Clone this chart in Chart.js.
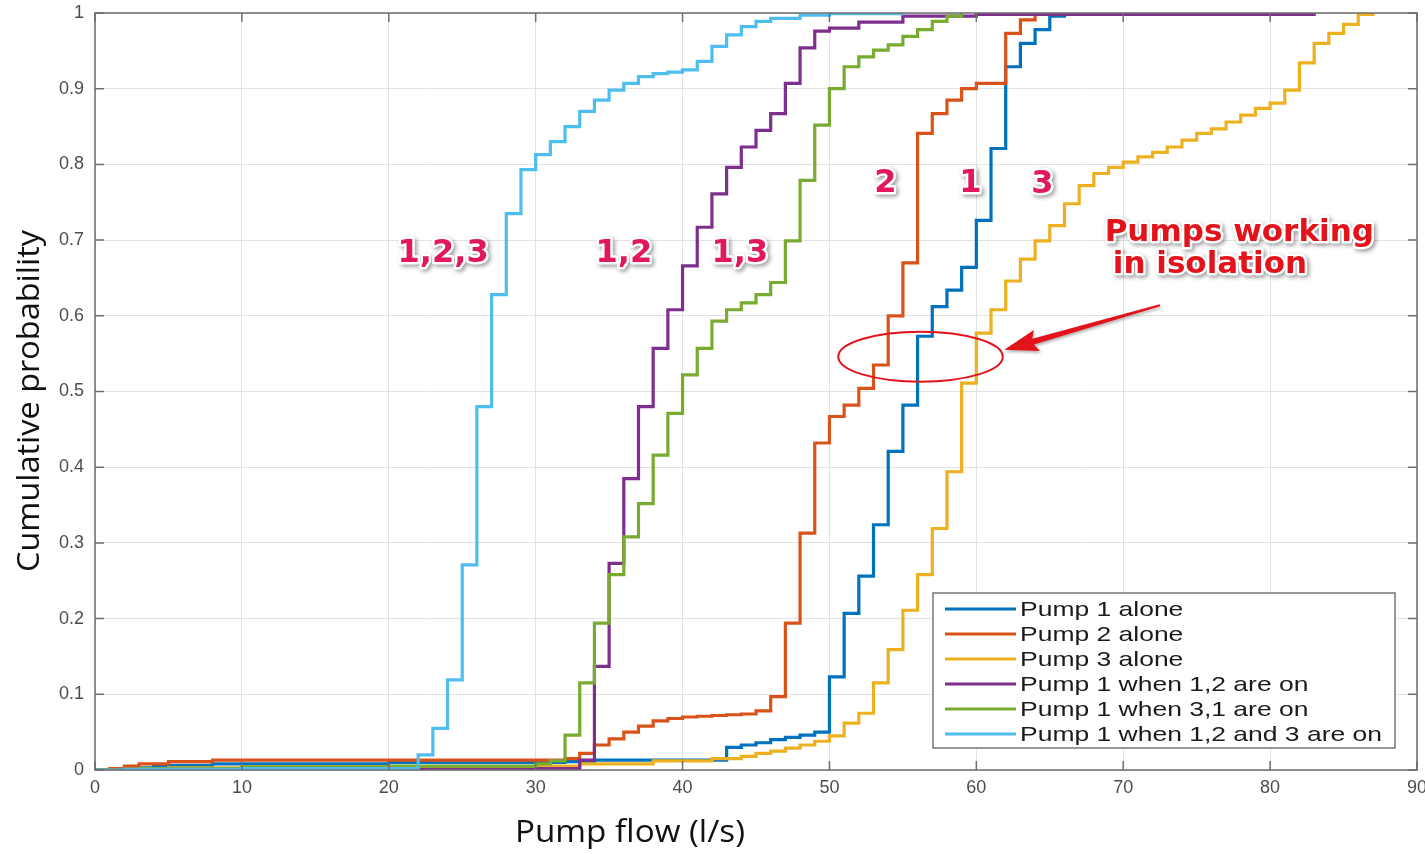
<!DOCTYPE html>
<html>
<head>
<meta charset="utf-8">
<style>
  html, body { margin: 0; padding: 0; background: #fff; }
  canvas { display: block; }
</style>
</head>
<body>
<canvas id="cdf" width="1425" height="854"></canvas>
<script src="https://cdn.jsdelivr.net/npm/chart.js@4.4.1/dist/chart.umd.min.js"></script>
<script>
// Empirical CDFs: flow (l/s) where each curve steps, and the probability after the step
const p1Flow = [0, 2, 4, 8, 20, 32, 34, 43, 44, 45, 46, 47, 48, 49, 50, 51, 52, 53, 54, 55, 56, 57, 58, 59, 60, 61, 62, 63, 64, 65, 66, 69];
const p1Cdf  = [0, 0.003, 0.006, 0.008, 0.01, 0.011, 0.013, 0.03, 0.033, 0.036, 0.04, 0.043, 0.046, 0.05, 0.123, 0.207, 0.256, 0.324, 0.421, 0.482, 0.573, 0.612, 0.634, 0.664, 0.726, 0.821, 0.929, 0.96, 0.978, 0.996, 1, 1];

const p2Flow = [0, 1, 2, 3, 5, 8, 32, 33, 34, 35, 36, 37, 38, 39, 40, 41, 42, 43, 44, 45, 46, 47, 48, 49, 50, 51, 52, 53, 54, 55, 56, 57, 58, 59, 60, 62, 63, 64, 65, 70];
const p2Cdf  = [0, 0.002, 0.005, 0.008, 0.011, 0.013, 0.015, 0.022, 0.033, 0.041, 0.05, 0.058, 0.065, 0.068, 0.07, 0.071, 0.072, 0.073, 0.074, 0.078, 0.097, 0.194, 0.313, 0.432, 0.467, 0.482, 0.504, 0.535, 0.6, 0.67, 0.841, 0.867, 0.885, 0.9, 0.907, 0.973, 0.991, 0.998, 1, 1];

const p3Flow = [0, 2, 5, 10, 30, 33, 38, 42, 44, 45, 46, 47, 48, 49, 50, 51, 52, 53, 54, 55, 56, 57, 58, 59, 60, 61,
                62, 63, 64, 65, 66, 67, 68, 69, 70, 71, 72, 73, 74, 75, 76, 77, 78, 79, 80, 81, 82, 83, 84, 85, 86, 87];
const p3Cdf  = [0, 0.001, 0.003, 0.004, 0.005, 0.008, 0.012, 0.015, 0.018, 0.022, 0.025, 0.029, 0.033, 0.038, 0.045, 0.062, 0.075, 0.115, 0.159, 0.211, 0.258, 0.319, 0.394, 0.511, 0.577, 0.608,
                0.646, 0.675, 0.699, 0.719, 0.748, 0.772, 0.788, 0.796, 0.803, 0.81, 0.816, 0.823, 0.832, 0.841, 0.847, 0.856, 0.865, 0.874, 0.881, 0.898, 0.934, 0.96, 0.973, 0.985, 0.998, 1];

const p12Flow = [0, 10, 30, 33, 34, 35, 36, 37, 38, 39, 40, 41, 42, 43, 44, 45, 46, 47, 48, 49, 50, 52, 55, 60, 83];
const p12Cdf  = [0, 0.001, 0.002, 0.013, 0.137, 0.273, 0.385, 0.48, 0.557, 0.608, 0.666, 0.717, 0.761, 0.796, 0.823, 0.845, 0.867, 0.907, 0.954, 0.976, 0.98, 0.988, 0.996, 0.998, 1];

const p31Flow = [0, 3, 10, 20, 30, 31, 32, 33, 34, 35, 36, 37, 38, 39, 40, 41, 42, 43, 44, 45, 46, 47, 48, 49, 50, 51, 52, 53, 54, 55, 56, 57, 58, 59];
const p31Cdf  = [0, 0.002, 0.004, 0.005, 0.008, 0.012, 0.046, 0.115, 0.194, 0.258, 0.308, 0.352, 0.416, 0.471, 0.522, 0.557, 0.593, 0.608, 0.617, 0.628, 0.644, 0.699, 0.779, 0.852, 0.9, 0.929, 0.942, 0.951, 0.958, 0.969, 0.978, 0.989, 0.996, 1];

const p123Flow = [0, 2, 10, 22, 23, 24, 25, 26, 27, 28, 29, 30, 31, 32, 33, 34, 35, 36, 37, 38, 39, 40, 41, 42, 43, 44, 45, 46, 48, 50, 55];
const p123Cdf  = [0, 0.001, 0.002, 0.02, 0.055, 0.119, 0.271, 0.48, 0.628, 0.735, 0.793, 0.813, 0.83, 0.85, 0.87, 0.885, 0.898, 0.907, 0.916, 0.92, 0.922, 0.925, 0.936, 0.956, 0.971, 0.982, 0.989, 0.993, 0.997, 0.999, 1];

const seriesNames = ['Pump 1 alone', 'Pump 2 alone', 'Pump 3 alone', 'Pump 1 when 1,2 are on', 'Pump 1 when 3,1 are on', 'Pump 1 when 1,2 and 3 are on'];
const xTicks = [0, 10, 20, 30, 40, 50, 60, 70, 80, 90];
const yTicks = [0, 0.1, 0.2, 0.3, 0.4, 0.5, 0.6, 0.7, 0.8, 0.9, 1];

// callouts written on the plot
const calloutText = ['1,2,3', '1,2', '1,3', '2', '1', '3'];
const calloutFlow = [23.7, 36.0, 43.9, 53.8, 59.6, 64.5];
const calloutProb = [0.682, 0.682, 0.682, 0.775, 0.775, 0.773];
const noteLines = ['Pumps working', 'in isolation'];

const colors = ['#0072BD', '#D95319', '#EDB120', '#7E2F8E', '#77AC30', '#4DBEEE'];
const flows = [p1Flow, p2Flow, p3Flow, p12Flow, p31Flow, p123Flow];
const cdfs = [p1Cdf, p2Cdf, p3Cdf, p12Cdf, p31Cdf, p123Cdf];

const datasets = seriesNames.map((name, i) => ({
  label: name,
  data: flows[i].map((f, k) => ({ x: f, y: cdfs[i][k] })),
  borderColor: colors[i],
  backgroundColor: colors[i],
  borderWidth: 3.2,
  stepped: true,
  pointRadius: 0,
  fill: false,
  order: seriesNames.length - i
}));

function outlinedText(ctx, text, px, py, fill) {
  ctx.save();
  ctx.shadowColor = 'rgba(0,0,0,0.4)';
  ctx.shadowBlur = 4;
  ctx.shadowOffsetX = 2;
  ctx.shadowOffsetY = 2;
  ctx.lineJoin = 'round';
  ctx.lineWidth = 5;
  ctx.strokeStyle = '#fff';
  ctx.strokeText(text, px, py);
  ctx.shadowColor = 'transparent';
  ctx.fillStyle = fill;
  ctx.fillText(text, px, py);
  ctx.restore();
}

// no automatic label padding: the plot box sits where the reference has it
function noPad(s) {
  s.paddingTop = 0; s.paddingBottom = 0; s.paddingLeft = 0; s.paddingRight = 0;
}

const decor = {
  id: 'decor',
  afterDatasetsDraw(chart) {
    const { ctx, chartArea: a, scales: { x, y } } = chart;
    ctx.save();
    // box with inward ticks, MATLAB style
    ctx.strokeStyle = '#6e6e6e';
    ctx.lineWidth = 1.5;
    ctx.strokeRect(a.left, a.top, a.right - a.left, a.bottom - a.top);
    ctx.beginPath();
    xTicks.forEach(v => {
      const px = x.getPixelForValue(v);
      ctx.moveTo(px, a.bottom); ctx.lineTo(px, a.bottom - 9);
      ctx.moveTo(px, a.top); ctx.lineTo(px, a.top + 9);
    });
    yTicks.forEach(v => {
      const py = y.getPixelForValue(v);
      ctx.moveTo(a.left, py); ctx.lineTo(a.left + 9, py);
      ctx.moveTo(a.right, py); ctx.lineTo(a.right - 9, py);
    });
    ctx.stroke();

    // legend
    const lx = 933, ly = 593, lw = 462, lh = 155;
    ctx.fillStyle = '#fff';
    ctx.fillRect(lx, ly, lw, lh);
    ctx.strokeStyle = '#777';
    ctx.lineWidth = 1.5;
    ctx.strokeRect(lx, ly, lw, lh);
    ctx.font = '21px "Liberation Sans", Arial, sans-serif';
    ctx.textBaseline = 'middle';
    ctx.textAlign = 'left';
    const widest = Math.max(...chart.data.datasets.map(d => ctx.measureText(d.label).width));
    const sx = 362 / widest;
    chart.data.datasets.forEach((d, i) => {
      const ry = ly + 16 + i * 25;
      ctx.strokeStyle = d.borderColor;
      ctx.lineWidth = 3;
      ctx.beginPath();
      ctx.moveTo(lx + 12, ry); ctx.lineTo(lx + 83, ry);
      ctx.stroke();
      ctx.save();
      ctx.translate(lx + 87, ry + 1);
      ctx.scale(sx, 1);
      ctx.fillStyle = '#1a1a1a';
      ctx.fillText(d.label, 0, 0);
      ctx.restore();
    });

    // curve callouts
    ctx.textAlign = 'center';
    ctx.textBaseline = 'middle';
    ctx.font = 'bold 32px "DejaVu Sans", sans-serif';
    calloutText.forEach((t, i) => {
      outlinedText(ctx, t, x.getPixelForValue(calloutFlow[i]), y.getPixelForValue(calloutProb[i]), '#e2185c');
    });
    ctx.font = 'bold 31px "DejaVu Sans", sans-serif';
    outlinedText(ctx, noteLines[0], x.getPixelForValue(77.9), y.getPixelForValue(0.709), '#e3131b');
    outlinedText(ctx, noteLines[1], x.getPixelForValue(75.9), y.getPixelForValue(0.667), '#e3131b');

    // ellipse round the isolated-pump crossing
    const cx = x.getPixelForValue(56.2), cy = y.getPixelForValue(0.546);
    const rx = x.getPixelForValue(56.2 + 5.6) - cx, ryy = cy - y.getPixelForValue(0.546 + 0.033);
    ctx.strokeStyle = '#e3131b';
    ctx.lineWidth = 2;
    ctx.beginPath();
    ctx.ellipse(cx, cy, rx, ryy, 0, 0, Math.PI * 2);
    ctx.stroke();

    // arrow pointing at the ellipse
    const tx = x.getPixelForValue(72.5), ty = y.getPixelForValue(0.614);
    const hx = x.getPixelForValue(61.9), hy = y.getPixelForValue(0.555);
    const ang = Math.atan2(hy - ty, hx - tx);
    const len = Math.hypot(hx - tx, hy - ty);
    ctx.save();
    ctx.translate(tx, ty);
    ctx.rotate(ang);
    ctx.fillStyle = '#e3131b';
    ctx.shadowColor = 'rgba(0,0,0,0.3)';
    ctx.shadowBlur = 3;
    ctx.shadowOffsetX = 1;
    ctx.shadowOffsetY = 2;
    ctx.beginPath();
    ctx.moveTo(0, -1);
    ctx.lineTo(len - 30, -3);
    ctx.lineTo(len - 34, -11);
    ctx.lineTo(len, 0);
    ctx.lineTo(len - 34, 11);
    ctx.lineTo(len - 30, 3);
    ctx.lineTo(0, 1);
    ctx.closePath();
    ctx.fill();
    ctx.restore();
    ctx.restore();
  },
  afterDraw(chart) {
    const { ctx } = chart;
    ctx.save();
    ctx.fillStyle = '#111';
    ctx.textAlign = 'center';
    ctx.textBaseline = 'middle';
    ctx.font = '31px "Open Sans", sans-serif';
    // x title
    let w = ctx.measureText('Pump flow (l/s)').width;
    ctx.save();
    ctx.translate(630, 833);
    ctx.scale(230 / w, 1);
    ctx.fillText('Pump flow (l/s)', 0, 0);
    ctx.restore();
    // y title
    w = ctx.measureText('Cumulative probability').width;
    ctx.save();
    ctx.translate(30, 401);
    ctx.rotate(-Math.PI / 2);
    ctx.scale(342 / w, 1);
    ctx.fillText('Cumulative probability', 0, 0);
    ctx.restore();
    ctx.restore();
  }
};

new Chart(document.getElementById('cdf'), {
  type: 'line',
  data: { datasets },
  options: {
    responsive: false,
    devicePixelRatio: 1,
    animation: false,
    layout: { autoPadding: false, padding: { top: 13, right: 8, left: 0, bottom: 0 } },
    scales: {
      x: {
        type: 'linear', min: 0, max: 90,
        afterBuildTicks: s => { s.ticks = xTicks.map(v => ({ value: v })); },
        afterFit: s => { s.height = 84; noPad(s); },
        ticks: { color: '#4d4d4d', font: { size: 18, family: '"Liberation Sans", Arial, sans-serif' }, padding: 7, maxRotation: 0 },
        grid: { color: '#e2e2e2', lineWidth: 1, drawTicks: false },
        border: { display: false }
      },
      y: {
        type: 'linear', min: 0, max: 1,
        afterBuildTicks: s => { s.ticks = yTicks.map(v => ({ value: v })); },
        afterFit: s => { s.width = 95; noPad(s); },
        ticks: { color: '#4d4d4d', font: { size: 18, family: '"Liberation Sans", Arial, sans-serif' }, padding: 11, callback: v => String(Number(v.toFixed(1))) },
        grid: { color: '#e2e2e2', lineWidth: 1, drawTicks: false },
        border: { display: false }
      }
    },
    plugins: { legend: { display: false }, tooltip: { enabled: false } }
  },
  plugins: [decor]
});
</script>
</body>
</html>
